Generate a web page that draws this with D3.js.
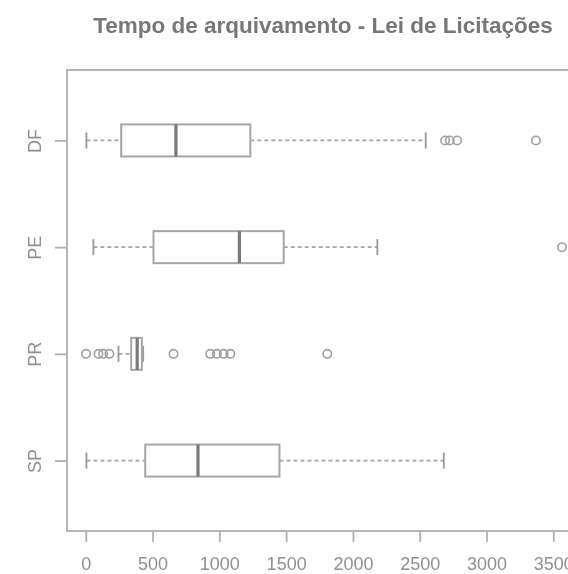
<!DOCTYPE html>
<html>
<head>
<meta charset="utf-8">
<script src="https://cdn.jsdelivr.net/npm/d3@7"></script>
<style>
  html, body { margin: 0; padding: 0; background: #fff; }
  svg { display: block; }
  text { font-family: "Liberation Sans", Arial, sans-serif; }
</style>
</head>
<body>
<svg id="chart" width="568" height="574"></svg>
<script>
// Days until archiving, by state (five-number summaries plus outliers)
const categories = ["SP", "PR", "PE", "DF"];
const whiskerLow  = [5, 245, 57, 5];
const q1          = [445, 340, 507, 265];
const medians     = [840, 385, 1150, 675];
const q3          = [1450, 420, 1482, 1232];
const whiskerHigh = [2680, 430, 2183, 2545];
const outliers = [
  [],
  [2, 95, 130, 177, 657, 932, 982, 1032, 1082, 1808],
  [3565],
  [2690, 2725, 2780, 3370]
];
const xTicks = [0, 500, 1000, 1500, 2000, 2500, 3000, 3500];
const title = "Tempo de arquivamento - Lei de Licitações";

const svg = d3.select("#chart");
const plot = { left: 67, right: 581, top: 70, bottom: 531 };

// Axis limits padded by 4% on each side
const allVals = whiskerLow.concat(whiskerHigh, outliers.flat());
const lo = d3.min(allVals), hi = d3.max(allVals);
const pad = (hi - lo) * 0.04;
const x = d3.scaleLinear().domain([lo - pad, hi + pad]).range([plot.left, plot.right]);
const nCat = categories.length;
const y = d3.scaleLinear()
  .domain([0.5 - nCat * 0.04, nCat + 0.5 + nCat * 0.04])
  .range([plot.bottom, plot.top]);
const half = 0.15; // box half-height in category units

const soft = svg.append("defs").append("filter").attr("id", "soft");
soft.append("feGaussianBlur").attr("stdDeviation", 0.6);

const g = svg.append("g").attr("filter", "url(#soft)");

const grey = "#a6a6a6";
const rows = categories.map((c, i) => ({
  c, pos: i + 1, lo: whiskerLow[i], q1: q1[i], med: medians[i], q3: q3[i], hi: whiskerHigh[i], out: outliers[i]
}));

const row = g.selectAll("g.row").data(rows).join("g").attr("class", "row");

// dashed whiskers
row.append("line")
  .attr("x1", d => x(d.lo)).attr("x2", d => x(d.q1))
  .attr("y1", d => y(d.pos)).attr("y2", d => y(d.pos))
  .attr("stroke", grey).attr("stroke-width", 1.8).attr("stroke-dasharray", "4,3");
row.append("line")
  .attr("x1", d => x(d.q3)).attr("x2", d => x(d.hi))
  .attr("y1", d => y(d.pos)).attr("y2", d => y(d.pos))
  .attr("stroke", grey).attr("stroke-width", 1.8).attr("stroke-dasharray", "4,3");
// staples
row.selectAll("line.cap").data(d => [d.lo, d.hi].map(v => ({ v, pos: d.pos }))).join("line")
  .attr("class", "cap")
  .attr("x1", d => x(d.v)).attr("x2", d => x(d.v))
  .attr("y1", d => y(d.pos - half / 2)).attr("y2", d => y(d.pos + half / 2))
  .attr("stroke", "#999").attr("stroke-width", 1.8);
// boxes
row.append("rect")
  .attr("x", d => x(d.q1)).attr("width", d => x(d.q3) - x(d.q1))
  .attr("y", d => y(d.pos + half)).attr("height", d => y(d.pos - half) - y(d.pos + half))
  .attr("fill", "#fff").attr("stroke", grey).attr("stroke-width", 2);
// medians
row.append("line")
  .attr("x1", d => x(d.med)).attr("x2", d => x(d.med))
  .attr("y1", d => y(d.pos + half)).attr("y2", d => y(d.pos - half))
  .attr("stroke", "#7a7a7a").attr("stroke-width", 3.2);
// outliers
row.selectAll("circle").data(d => d.out.map(v => ({ v, pos: d.pos }))).join("circle")
  .attr("cx", d => x(d.v)).attr("cy", d => y(d.pos)).attr("r", 4.2)
  .attr("fill", "none").attr("stroke", "#a0a0a0").attr("stroke-width", 1.6);

// plot frame
g.append("rect")
  .attr("x", plot.left).attr("y", plot.top)
  .attr("width", plot.right - plot.left).attr("height", plot.bottom - plot.top)
  .attr("fill", "none").attr("stroke", "#b5b5b5").attr("stroke-width", 2);

// bottom axis
const xAxis = g.append("g").attr("transform", `translate(0,${plot.bottom})`)
  .call(d3.axisBottom(x).tickValues(xTicks).tickSize(11).tickPadding(15).tickFormat(d3.format("d")));
xAxis.select(".domain").remove();
xAxis.selectAll("line").attr("stroke", "#b0b0b0").attr("stroke-width", 1.8);
xAxis.selectAll("text").attr("fill", "#909090").attr("font-size", 18);

// left axis with rotated labels
const yAxis = g.append("g").attr("transform", `translate(${plot.left},0)`)
  .call(d3.axisLeft(y).tickValues(rows.map(d => d.pos)).tickSize(12)
    .tickFormat((d, i) => categories[i]));
yAxis.select(".domain").remove();
yAxis.selectAll("line").attr("stroke", "#b0b0b0").attr("stroke-width", 1.8);
yAxis.selectAll("text")
  .attr("fill", "#909090").attr("font-size", 18)
  .attr("text-anchor", "middle").attr("dy", null)
  .attr("x", null)
  .attr("transform", "translate(-26,0) rotate(-90)");

// title
g.append("text")
  .attr("x", (plot.left + plot.right) / 2 - 1).attr("y", 33)
  .attr("text-anchor", "middle")
  .attr("font-size", 22.5).attr("font-weight", "bold").attr("fill", "#777")
  .text(title);
</script>
</body>
</html>
